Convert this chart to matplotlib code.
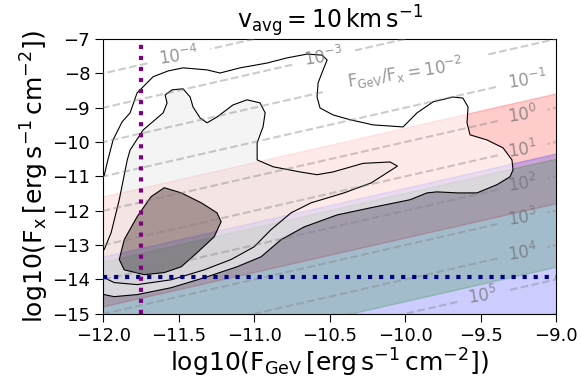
import numpy as np
import matplotlib
matplotlib.use('Agg')
import matplotlib.pyplot as plt
from matplotlib.path import Path
from matplotlib.patches import PathPatch

# log10 of F_GeV / F_x for the dashed guide lines
ratio_levels = [-5, -4, -3, -2, -1, 0, 1, 2, 3, 4, 5, 6]
ratio_labels = {k: r'$10^{%d}$' % k for k in ratio_levels}
ratio_labels[-2] = r'$\mathrm{F_{GeV}/F_x = 10^{-2}}$'
label_pos = [(-11.5, -7.5), (-10.54, -7.54), (-10.0, -8.0), (-9.19, -8.19),
             (-9.22, -9.22), (-9.22, -10.22), (-9.22, -11.22), (-9.22, -12.22),
             (-9.22, -13.22), (-9.49, -14.49)]

# shaded bands in log10(F_GeV/F_x): (low, high)
red_band = (-0.4, 2.8)
blue_band = (1.35, 9.0)
green_band = (1.5, 4.65)

# reference lines
x_line = -11.75
y_line = -13.92

# contours
outer_x = [-12.09, -11.995, -11.975, -11.936, -11.876, -11.823, -11.777, -11.671, -11.571,
           -11.472, -11.313, -11.227, -11.094, -10.915, -10.783, -10.65, -10.551, -10.517,
           -10.544, -10.577, -10.584, -10.564, -10.478, -10.365, -10.213, -10.014, -9.921,
           -9.815, -9.683, -9.617, -9.583, -9.59, -9.57, -9.457, -9.351, -9.292, -9.285,
           -9.305, -9.391, -9.524, -9.656, -9.789, -9.855, -9.968, -10.225, -10.45, -10.669,
           -10.822, -10.955, -11.114, -11.332, -11.551, -11.776, -11.929, -11.995, -12.09]
outer_y = [-11.04, -10.98, -10.6, -9.94, -9.41, -9.15, -8.57, -8.1, -7.93,
           -7.84, -7.9, -7.99, -7.84, -7.7, -7.55, -7.44, -7.47, -7.61,
           -7.9, -8.28, -8.69, -9.01, -9.21, -9.35, -9.5, -9.56, -9.15,
           -8.83, -8.69, -8.72, -8.98, -9.44, -9.79, -9.94, -10.17, -10.52, -10.81,
           -11.01, -11.24, -11.48, -11.48, -11.45, -11.48, -11.68, -11.91, -12.12, -12.47,
           -12.84, -13.34, -13.63, -13.95, -14.24, -14.44, -14.5, -14.44, -14.42]

middle_x = [-12.09, -11.995, -11.949, -11.895, -11.842, -11.823, -11.737, -11.604, -11.578,
            -11.591, -11.545, -11.472, -11.425, -11.406, -11.359, -11.313, -11.247, -11.141,
            -11.048, -10.962, -10.928, -10.942, -10.981, -10.981, -10.875, -10.697, -10.584,
            -10.478, -10.279, -10.1, -10.051, -10.225, -10.405, -10.624, -10.756, -10.889,
            -11.001, -11.154, -11.332, -11.551, -11.776, -11.929, -11.995, -12.09]
middle_y = [-13.13, -13.13, -12.64, -11.68, -10.52, -10.23, -9.65, -9.15, -8.86,
            -8.63, -8.48, -8.45, -8.69, -8.98, -9.3, -9.44, -9.27, -8.92,
            -8.77, -8.86, -9.15, -9.56, -10.02, -10.52, -10.72, -10.87, -10.95,
            -10.87, -10.62, -10.58, -10.7, -11.19, -11.48, -11.77, -12.06, -12.55,
            -13.05, -13.42, -13.72, -14.01, -14.15, -14.09, -13.95, -13.95]

inner_x = [-11.597, -11.484, -11.351, -11.247, -11.22, -11.266, -11.379, -11.484, -11.597,
           -11.73, -11.862, -11.895, -11.862, -11.776, -11.684]
inner_y = [-11.33, -11.48, -11.77, -12.06, -12.32, -12.76, -13.22, -13.63, -13.8,
           -13.86, -13.72, -13.42, -12.84, -12.17, -11.59]


def closed_path(xs, ys, ccw=True):
    pts = np.column_stack([xs, ys])
    area = 0.5 * np.sum(pts[:, 0] * np.roll(pts[:, 1], -1) - np.roll(pts[:, 0], -1) * pts[:, 1])
    if (area > 0) != ccw:
        pts = pts[::-1]
    pts = np.vstack([pts, pts[:1]])
    codes = [Path.MOVETO] + [Path.LINETO] * (len(pts) - 2) + [Path.CLOSEPOLY]
    return Path(pts, codes)


def main():
    fig = plt.figure(figsize=(5.81, 3.86), dpi=100)
    ax = fig.add_axes([0.178, 0.187, 0.779, 0.712])

    xx = np.linspace(-12.5, -8.5, 300)
    # bands
    for band, col in [(red_band, 'red'), (blue_band, 'blue'), (green_band, 'green')]:
        ax.fill_between(xx, xx - band[1], xx - band[0], color=col, alpha=0.2, zorder=1)

    # contour regions (non overlapping rings)
    p_out = closed_path(outer_x, outer_y, True)
    p_mid = closed_path(middle_x, middle_y, True)
    p_in = closed_path(inner_x, inner_y, True)
    ring1 = Path.make_compound_path(p_out, closed_path(middle_x, middle_y, False))
    ring2 = Path.make_compound_path(p_mid, closed_path(inner_x, inner_y, False))
    ax.add_patch(PathPatch(ring1, facecolor='white', edgecolor='none', alpha=0.6, zorder=2))
    ax.add_patch(PathPatch(ring2, facecolor='0.94', edgecolor='none', alpha=0.67, zorder=2))
    ax.add_patch(PathPatch(p_in, facecolor='0.45', edgecolor='none', alpha=0.6, zorder=2))
    for p in (p_out, p_mid, p_in):
        ax.add_patch(PathPatch(p, facecolor='none', edgecolor='black', lw=0.8, zorder=3))

    # dashed ratio lines
    gx, gy = np.meshgrid(np.linspace(-12.5, -8.5, 200), np.linspace(-16, -6, 200))
    cs = ax.contour(gx, gy, gx - gy, levels=ratio_levels, colors='gray',
                    linestyles='--', linewidths=1.5, alpha=0.4, zorder=4)
    texts = ax.clabel(cs, fmt=ratio_labels, manual=label_pos,
                      inline=True, fontsize=12, inline_spacing=4)
    for t in texts:
        t.set_color('0.45')
        t.set_alpha(0.75)

    ax.axhline(y_line, color='navy', ls=':', lw=3, zorder=5)
    ax.axvline(x_line, color='purple', ls=':', lw=3, zorder=6)

    ax.set_xlim(-12, -9)
    ax.set_ylim(-15, -7)
    ax.set_xticks(np.arange(-12, -8.9, 0.5))
    ax.set_yticks(np.arange(-15, -6.9, 1))
    ax.tick_params(labelsize=13, length=6)
    ax.set_xlabel(r'log10($\mathrm{F_{GeV}\,[erg\,s^{-1}\,cm^{-2}]}$)', fontsize=18, labelpad=1)
    ax.set_ylabel(r'log10($\mathrm{F_x\,[erg\,s^{-1}\,cm^{-2}]}$)', fontsize=18, labelpad=1)
    ax.set_title(r'$\mathrm{v_{avg} = 10\,km\,s^{-1}}$', fontsize=17, pad=5)

    fig.savefig('out.png', dpi=100)


if __name__ == "__main__":
    main()
